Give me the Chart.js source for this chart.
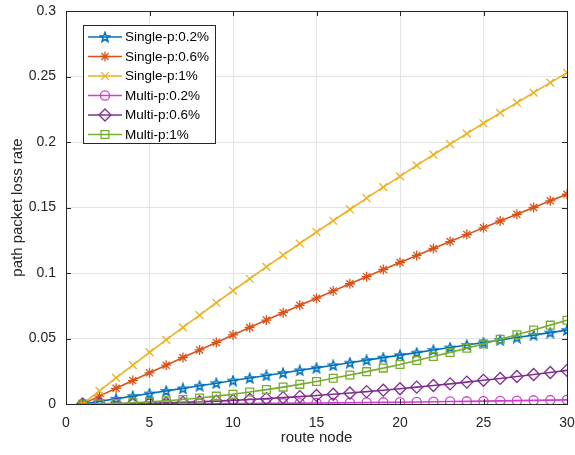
<!DOCTYPE html>
<html>
<head>
<meta charset="utf-8">
<script src="https://cdn.jsdelivr.net/npm/chart.js@4.4.1/dist/chart.umd.min.js"></script>
<style>
  html, body { margin: 0; padding: 0; background: #fff; }
  #wrap { width: 575px; height: 455px; position: relative; }
</style>
</head>
<body>
<div id="wrap"><canvas id="lossChart"></canvas></div>
<script>
  // route node index on the x axis
  const routeNodes = [1, 2, 3, 4, 5, 6, 7, 8, 9, 10, 11, 12, 13, 14, 15,
    16, 17, 18, 19, 20, 21, 22, 23, 24, 25, 26, 27, 28, 29, 30];

  const singleP02 = [0, 0.0020, 0.0040, 0.0060, 0.0080, 0.0100, 0.0119, 0.0139, 0.0159, 0.0179,
    0.0198, 0.0218, 0.0237, 0.0257, 0.0276, 0.0296, 0.0315, 0.0335, 0.0354, 0.0373,
    0.0392, 0.0412, 0.0431, 0.0450, 0.0469, 0.0488, 0.0507, 0.0526, 0.0545, 0.0564];
  const singleP06 = [0, 0.0060, 0.0120, 0.0179, 0.0238, 0.0296, 0.0355, 0.0413, 0.0470, 0.0527,
    0.0584, 0.0641, 0.0697, 0.0753, 0.0808, 0.0863, 0.0918, 0.0972, 0.1027, 0.1080,
    0.1134, 0.1187, 0.1240, 0.1293, 0.1345, 0.1397, 0.1448, 0.1500, 0.1551, 0.1601];
  const singleP1 = [0, 0.0100, 0.0199, 0.0297, 0.0394, 0.0490, 0.0585, 0.0679, 0.0773, 0.0865,
    0.0956, 0.1047, 0.1136, 0.1225, 0.1313, 0.1399, 0.1485, 0.1571, 0.1655, 0.1738,
    0.1821, 0.1903, 0.1984, 0.2064, 0.2143, 0.2222, 0.2300, 0.2377, 0.2453, 0.2528];
  const multiP02 = [0, 0.00000, 0.00002, 0.00004, 0.00006, 0.00010, 0.00014, 0.00019, 0.00025, 0.00032,
    0.00039, 0.00047, 0.00056, 0.00066, 0.00076, 0.00088, 0.00099, 0.00112, 0.00125, 0.00139,
    0.00154, 0.00170, 0.00186, 0.00203, 0.00220, 0.00238, 0.00257, 0.00277, 0.00297, 0.00318];
  const multiP06 = [0, 0.00004, 0.00014, 0.00032, 0.00057, 0.00088, 0.00126, 0.00170, 0.00221, 0.00278,
    0.00341, 0.00410, 0.00485, 0.00566, 0.00653, 0.00745, 0.00843, 0.00946, 0.01054, 0.01167,
    0.01286, 0.01409, 0.01538, 0.01671, 0.01809, 0.01951, 0.02098, 0.02249, 0.02405, 0.02565];
  const multiP1 = [0, 0.0001, 0.0004, 0.0009, 0.0016, 0.0024, 0.0034, 0.0046, 0.0060, 0.0075,
    0.0091, 0.0110, 0.0129, 0.0150, 0.0172, 0.0196, 0.0221, 0.0247, 0.0274, 0.0302,
    0.0332, 0.0362, 0.0394, 0.0426, 0.0459, 0.0494, 0.0529, 0.0565, 0.0602, 0.0639];

  const seriesLabels = ['Single-p:0.2%', 'Single-p:0.6%', 'Single-p:1%',
    'Multi-p:0.2%', 'Multi-p:0.6%', 'Multi-p:1%'];

  const FONT = "'Liberation Sans', Arial, Helvetica, sans-serif";
  const INK = '#262626';

  // hollow five-pointed star marker (no built-in pentagram in Chart.js)
  function makePentagram(color) {
    const c = document.createElement('canvas');
    c.width = 12; c.height = 12;
    const g = c.getContext('2d');
    const R = 5, r = 2.1;
    g.beginPath();
    for (let i = 0; i < 10; i++) {
      const rad = (i % 2 === 0 ? R : r);
      const a = -Math.PI / 2 + i * Math.PI / 5;
      const px = 6 + rad * Math.cos(a), py = 6.4 + rad * Math.sin(a);
      if (i === 0) g.moveTo(px, py); else g.lineTo(px, py);
    }
    g.closePath();
    g.strokeStyle = color;
    g.lineWidth = 1.5;
    g.stroke();
    return c;
  }

  const styles = [
    { color: '#0072bd', point: makePentagram('#0072bd'), radius: 5 },
    { color: '#d95319', point: 'star', radius: 5 },
    { color: '#edb120', point: 'crossRot', radius: 5.5 },
    { color: '#cc3fcc', point: 'circle', radius: 4.6 },
    { color: '#7e2f8e', point: 'rectRot', radius: 6 },
    { color: '#77ac30', point: 'rect', radius: 5.5 },
  ];

  const seriesValues = [singleP02, singleP06, singleP1, multiP02, multiP06, multiP1];

  const datasets = seriesValues.map((vals, i) => ({
    label: seriesLabels[i],
    data: vals.map((v, j) => ({ x: routeNodes[j], y: v })),
    borderColor: styles[i].color,
    backgroundColor: 'rgba(0,0,0,0)',
    borderWidth: 1.6,
    pointStyle: styles[i].point,
    pointRadius: styles[i].radius,
    pointBorderWidth: 1.3,
    pointBorderColor: styles[i].color,
    pointBackgroundColor: 'rgba(0,0,0,0)',
    order: 5 - i,
  }));

  // axes box with inward ticks on all four sides
  const boxPlugin = {
    id: 'boxPlugin',
    afterDraw(chart) {
      const { ctx, chartArea: a, scales } = chart;
      ctx.save();
      ctx.strokeStyle = INK;
      ctx.lineWidth = 1;
      ctx.strokeRect(Math.round(a.left) + 0.5, Math.round(a.top) + 0.5,
        Math.round(a.right - a.left), Math.round(a.bottom - a.top));
      const len = 5;
      ctx.beginPath();
      scales.x.ticks.forEach(t => {
        const px = Math.round(scales.x.getPixelForValue(t.value)) + 0.5;
        ctx.moveTo(px, a.bottom); ctx.lineTo(px, a.bottom - len);
        ctx.moveTo(px, a.top); ctx.lineTo(px, a.top + len);
      });
      scales.y.ticks.forEach(t => {
        const py = Math.round(scales.y.getPixelForValue(t.value)) + 0.5;
        ctx.moveTo(a.left, py); ctx.lineTo(a.left + len, py);
        ctx.moveTo(a.right, py); ctx.lineTo(a.right - len, py);
      });
      ctx.stroke();
      ctx.restore();
    }
  };

  // legend box in the upper-left corner of the plot
  const legendPlugin = {
    id: 'legendPlugin',
    afterDraw(chart) {
      const ctx = chart.ctx;
      const bx = 83, by = 25, bw = 132, bh = 118;
      ctx.save();
      ctx.fillStyle = '#fff';
      ctx.fillRect(bx, by, bw, bh);
      ctx.strokeStyle = INK;
      ctx.lineWidth = 1;
      ctx.strokeRect(bx + 0.5, by + 0.5, bw, bh);
      ctx.font = '13.5px ' + FONT;
      ctx.textBaseline = 'middle';
      chart.data.datasets.forEach((ds, i) => {
        const y = by + 12 + i * 19.5;
        ctx.strokeStyle = ds.borderColor;
        ctx.lineWidth = 1.6;
        ctx.beginPath();
        ctx.moveTo(88, y); ctx.lineTo(122, y);
        ctx.stroke();
        ctx.lineWidth = 1.3;
        ctx.fillStyle = 'rgba(0,0,0,0)';
        Chart.helpers.drawPoint(ctx, {
          pointStyle: ds.pointStyle, radius: ds.pointRadius, rotation: 0, borderWidth: 1.3
        }, 105, y);
        ctx.fillStyle = '#000';
        ctx.fillText(ds.label, 125, y + 0.5);
      });
      ctx.restore();
    }
  };

  new Chart(document.getElementById('lossChart'), {
    type: 'line',
    data: { datasets },
    plugins: [boxPlugin, legendPlugin],
    options: {
      responsive: true,
      maintainAspectRatio: false,
      animation: false,
      layout: { padding: { top: 11, right: 8, left: 0, bottom: 0 } },
      plugins: { legend: { display: false }, tooltip: { enabled: false } },
      scales: {
        x: {
          type: 'linear',
          min: 0,
          max: 30,
          ticks: { stepSize: 5, color: INK, font: { family: FONT, size: 14 }, padding: 11, maxRotation: 0 },
          grid: { color: '#e3e3e3', drawTicks: false },
          border: { display: false },
          title: { display: true, text: 'route node', color: INK, font: { family: FONT, size: 15 }, padding: { top: 0, bottom: 8 } },
          afterFit(scale) {
            scale.height = 51;
            scale.paddingLeft = 0;
            scale.paddingRight = 0;
          },
        },
        y: {
          min: 0,
          max: 0.3,
          ticks: {
            stepSize: 0.05, color: INK, font: { family: FONT, size: 14 }, padding: 10,
            callback: v => String(Number(v.toFixed(2))),
          },
          grid: { color: '#e3e3e3', drawTicks: false },
          border: { display: false },
          title: { display: true, text: 'path packet loss rate', color: INK, font: { family: FONT, size: 15 }, padding: { top: 9, bottom: 0 } },
          afterFit(scale) {
            scale.width = 66;
            scale.paddingTop = 0;
            scale.paddingBottom = 0;
          },
        },
      },
    },
  });
</script>
</body>
</html>
